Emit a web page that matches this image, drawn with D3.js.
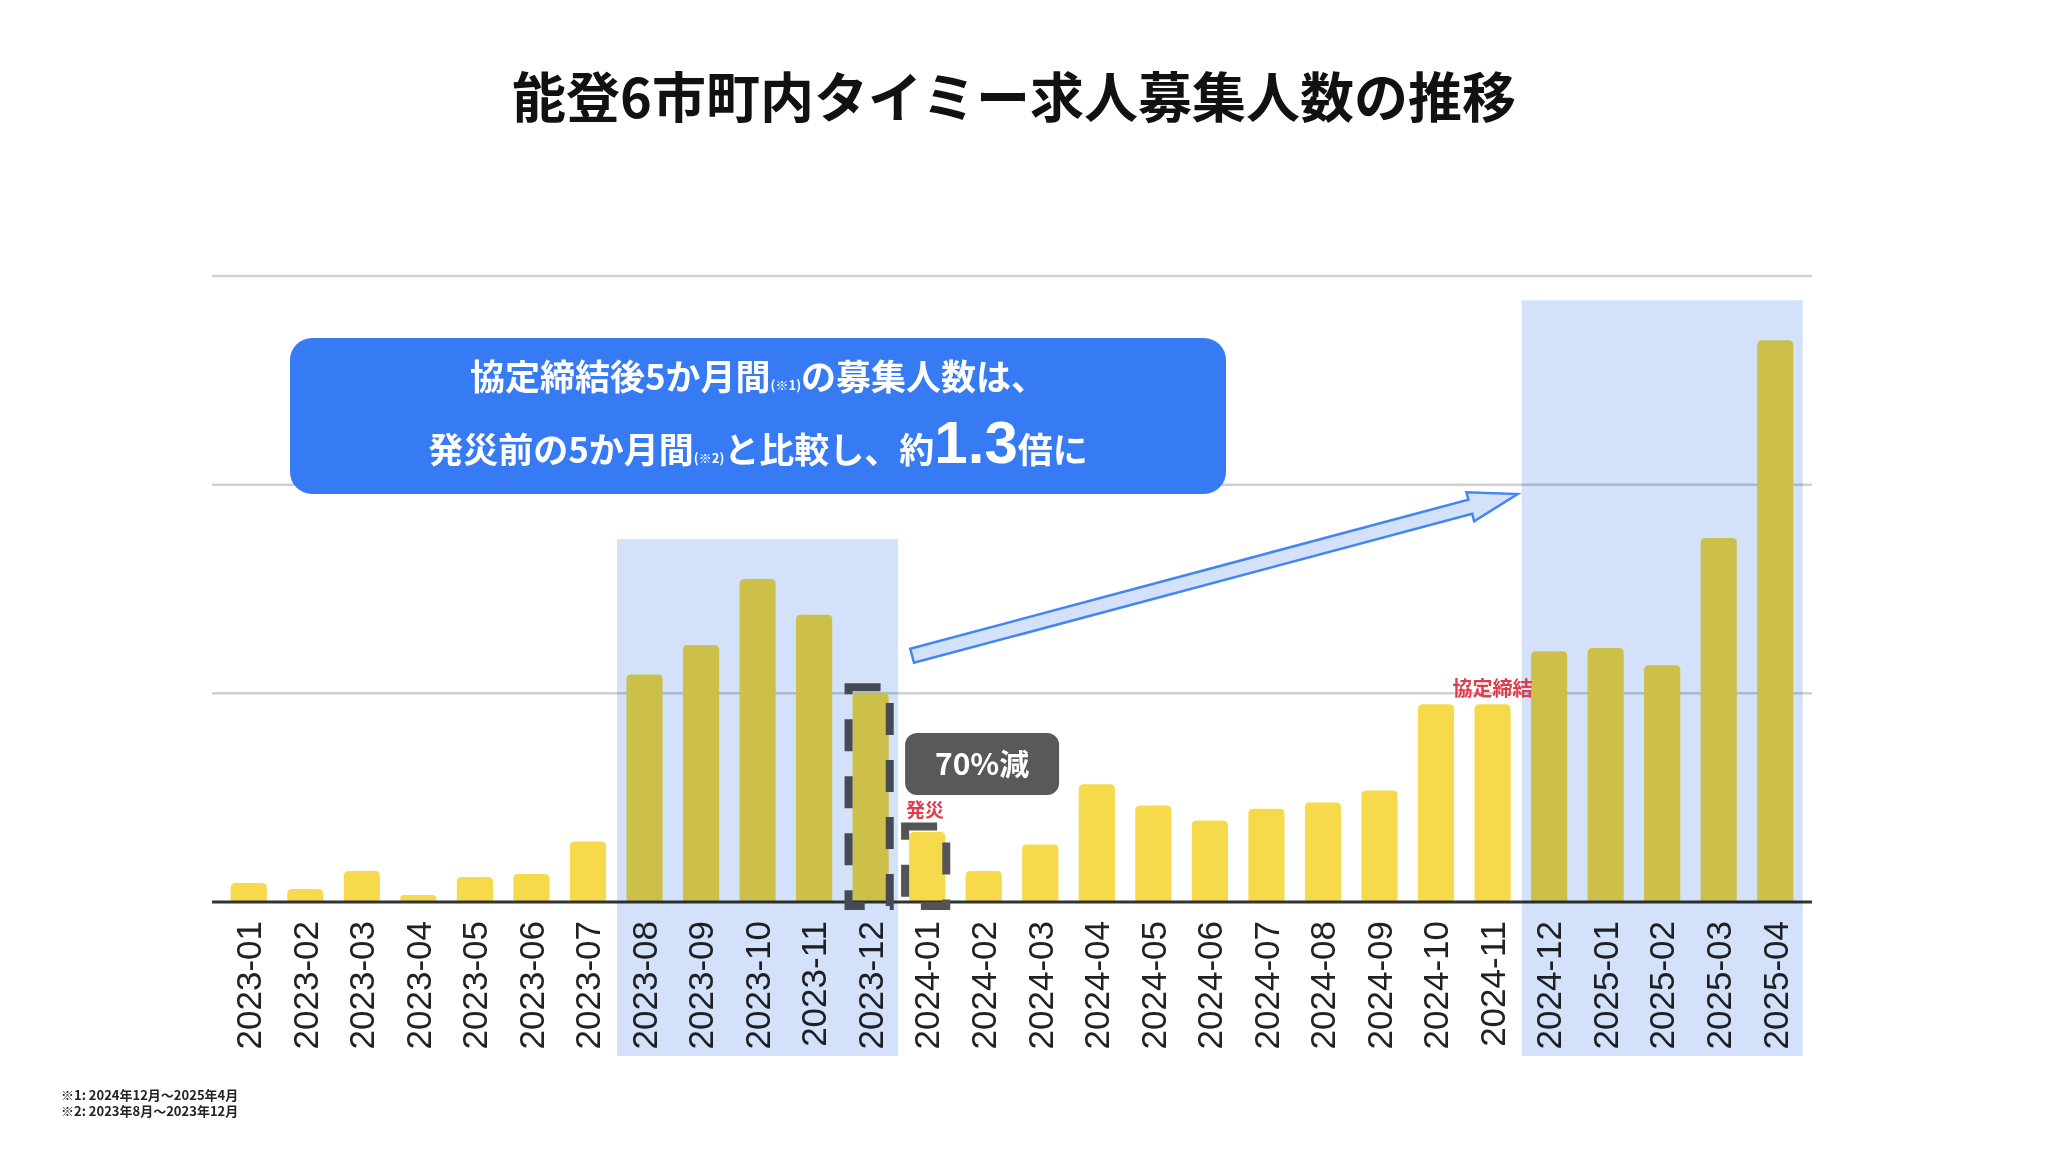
<!DOCTYPE html>
<html>
<head>
<meta charset="utf-8">
<script src="https://cdn.jsdelivr.net/npm/d3@7"></script>
<style>
  body { margin: 0; background: #fff; }
  .jp { font-family: "Noto Sans CJK JP", "Noto Sans", sans-serif; font-weight: 700; }
  .lbl { font-family: "Liberation Sans", Arial, sans-serif; }
</style>
</head>
<body>
<script>
// Monthly number of job postings (grid step = 1000)
var months = ["2023-01", "2023-02", "2023-03", "2023-04", "2023-05", "2023-06",
  "2023-07", "2023-08", "2023-09", "2023-10", "2023-11", "2023-12",
  "2024-01", "2024-02", "2024-03", "2024-04", "2024-05", "2024-06",
  "2024-07", "2024-08", "2024-09", "2024-10", "2024-11", "2024-12",
  "2025-01", "2025-02", "2025-03", "2025-04"];
var postings = [91, 62, 148, 34, 120, 134, 290, 1090, 1232, 1548, 1376, 1003,
  335, 148, 276, 564, 463, 391, 447, 477, 534, 948, 948, 1202,
  1217, 1134, 1745, 2692];
var gridTicks = [0, 1000, 2000, 3000];

// Highlighted periods (before the disaster / after the agreement)
var highlightStart = ["2023-08", "2024-12"];
var highlightEnd = ["2023-12", "2025-04"];

// Dashed boxes around the months compared for the "70%減" drop
var dropMonths = ["2023-12", "2024-01"];

var title = "能登6市町内タイミー求人募集人数の推移";
var notes = ["※1: 2024年12月～2025年4月", "※2: 2023年8月～2023年12月"];

var w = 2048;
var h = 1161;

var svg = d3.select("body")
    .append("svg")
    .attr("width", w)
    .attr("height", h);

svg.append("rect")
    .attr("width", w)
    .attr("height", h)
    .attr("fill", "#fff");

// Scales
var xScale = d3.scaleBand()
    .domain(months)
    .range([212, 1812])
    .paddingInner(0.36)
    .paddingOuter(0.33);
var yScale = d3.scaleLinear()
    .domain([0, 3000])
    .range([902, 276]);

var bw = xScale.bandwidth();
var gap = (xScale.step() - bw) / 2;

// Title
svg.append("text")
    .attr("class", "jp")
    .attr("x", 1014)
    .attr("y", 118)
    .attr("text-anchor", "middle")
    .style("font-size", "54px")
    .attr("fill", "#111")
    .text(title);

// Gridlines
svg.selectAll(".grid")
    .data(gridTicks.slice(1))
    .enter().append("line")
    .attr("class", "grid")
    .attr("x1", 212)
    .attr("x2", 1812)
    .attr("y1", function(d) { return yScale(d); })
    .attr("y2", function(d) { return yScale(d); })
    .attr("stroke", "#d0d0d0")
    .attr("stroke-width", 2.5);

// Bars with rounded tops
function barPath(x, y, bwid, y0, r) {
  r = Math.min(r, (y0 - y) / 2, bwid / 2);
  return "M" + x + "," + y0 +
    "V" + (y + r) +
    "Q" + x + "," + y + " " + (x + r) + "," + y +
    "H" + (x + bwid - r) +
    "Q" + (x + bwid) + "," + y + " " + (x + bwid) + "," + (y + r) +
    "V" + y0 + "Z";
}

svg.selectAll(".bar")
    .data(months)
    .enter().append("path")
    .attr("class", "bar")
    .attr("d", function(d, i) {
      return barPath(xScale(d), yScale(postings[i]), bw, yScale(0), 5);
    })
    .attr("fill", "#f7d94c");

// Baseline
svg.append("line")
    .attr("x1", 212)
    .attr("x2", 1812)
    .attr("y1", yScale(0))
    .attr("y2", yScale(0))
    .attr("stroke", "#333")
    .attr("stroke-width", 3);

// X axis labels (rotated)
svg.selectAll(".xlabel")
    .data(months)
    .enter().append("text")
    .attr("class", "lbl xlabel")
    .attr("transform", function(d) {
      return "translate(" + (xScale(d) + bw / 2) + "," + (yScale(0) + 19) + ") rotate(-90)";
    })
    .attr("text-anchor", "end")
    .attr("dy", "0.35em")
    .style("font-size", "35px")
    .attr("fill", "#222")
    .text(function(d) { return d; });

// Dashed boxes around the drop
svg.selectAll(".dropbox")
    .data(dropMonths)
    .enter().append("rect")
    .attr("class", "dropbox")
    .attr("x", function(d) { return xScale(d) - 4; })
    .attr("y", function(d) { return yScale(postings[months.indexOf(d)]) - 5.5; })
    .attr("width", bw + 5)
    .attr("height", function(d) { return yScale(0) + 4 - (yScale(postings[months.indexOf(d)]) - 5.5); })
    .attr("fill", "none")
    .attr("stroke", "#545454")
    .attr("stroke-width", 8)
    .attr("stroke-dasharray", "32,25");

// Highlight shading (multiplied over bars, so they turn olive)
svg.selectAll(".shade")
    .data(highlightStart)
    .enter().append("rect")
    .attr("class", "shade")
    .attr("x", function(d) { return xScale(d) - gap * 0.92; })
    .attr("y", function(d, i) {
      var i0 = months.indexOf(d), i1 = months.indexOf(highlightEnd[i]);
      return yScale(d3.max(postings.slice(i0, i1 + 1))) - 40;
    })
    .attr("width", function(d, i) {
      return xScale(highlightEnd[i]) + bw + gap * 0.92 - (xScale(d) - gap * 0.92);
    })
    .attr("height", function(d, i) {
      var i0 = months.indexOf(d), i1 = months.indexOf(highlightEnd[i]);
      return 1056 - (yScale(d3.max(postings.slice(i0, i1 + 1))) - 40);
    })
    .attr("fill", "#d3e2fa")
    .style("mix-blend-mode", "multiply");

// Block arrow from the drop towards the post-agreement period
var from = [xScale("2024-01") + 3, yScale(1180)];
var to = [xScale("2024-12") - gap * 0.92 - 4, yScale(1955)];
var dx = to[0] - from[0], dy = to[1] - from[1];
var len = Math.sqrt(dx * dx + dy * dy);
var ang = Math.atan2(dy, dx) * 180 / Math.PI;
var sw = 7.3, hw = 15, hl = 49;
svg.append("path")
    .attr("transform", "translate(" + from[0] + "," + from[1] + ") rotate(" + ang + ")")
    .attr("d", "M0," + (-sw) + "H" + (len - hl) + "V" + (-hw) + "L" + len + ",0L" +
      (len - hl) + "," + hw + "V" + sw + "H0Z")
    .attr("fill", "#d3e2fa")
    .attr("stroke", "#4285f4")
    .attr("stroke-width", 2.5)
    .attr("stroke-linejoin", "miter");

// Blue callout
svg.append("rect")
    .attr("x", 290)
    .attr("y", 338)
    .attr("width", 936)
    .attr("height", 156)
    .attr("rx", 22)
    .attr("fill", "#377bf4");

var line1 = svg.append("text")
    .attr("class", "jp")
    .attr("x", 758)
    .attr("y", 390)
    .attr("text-anchor", "middle")
    .attr("fill", "#fff")
    .style("font-size", "35px");
line1.append("tspan").text("協定締結後5か月間");
line1.append("tspan").style("font-size", "13px").text("(※1)");
line1.append("tspan").text("の募集人数は、");

var line2 = svg.append("text")
    .attr("class", "jp")
    .attr("x", 758)
    .attr("y", 463)
    .attr("text-anchor", "middle")
    .attr("fill", "#fff")
    .style("font-size", "35px");
line2.append("tspan").text("発災前の5か月間");
line2.append("tspan").style("font-size", "13px").text("(※2)");
line2.append("tspan").text("と比較し、約");
line2.append("tspan")
    .style("font-family", "'Liberation Sans', Arial, sans-serif")
    .style("font-size", "60px")
    .text("1.3");
line2.append("tspan").text("倍に");

// "70%減" badge
svg.append("rect")
    .attr("x", xScale("2024-01") - 4)
    .attr("y", 733)
    .attr("width", 154)
    .attr("height", 62)
    .attr("rx", 12)
    .attr("fill", "#595959");
svg.append("text")
    .attr("class", "jp")
    .attr("x", xScale("2024-01") - 4 + 77)
    .attr("y", 775)
    .attr("text-anchor", "middle")
    .attr("fill", "#fff")
    .style("font-size", "30px")
    .text("70%減");

// Red event labels
svg.append("text")
    .attr("class", "jp")
    .attr("x", xScale("2024-01") - 3)
    .attr("y", 817)
    .attr("fill", "#e23b4b")
    .style("font-size", "19px")
    .text("発災");
svg.append("text")
    .attr("class", "jp")
    .attr("x", xScale("2024-11") + bw / 2)
    .attr("y", yScale(postings[months.indexOf("2024-11")]) - 8)
    .attr("text-anchor", "middle")
    .attr("fill", "#e23b4b")
    .style("font-size", "20px")
    .text("協定締結");

// Footnotes
svg.selectAll(".note")
    .data(notes)
    .enter().append("text")
    .attr("class", "jp note")
    .attr("x", 61)
    .attr("y", function(d, i) { return 1100 + i * 16; })
    .attr("fill", "#222")
    .style("font-size", "13px")
    .text(function(d) { return d; });
</script>
</body>
</html>
